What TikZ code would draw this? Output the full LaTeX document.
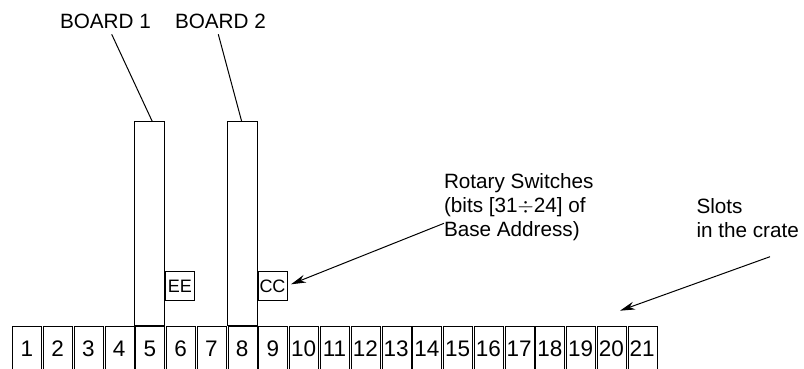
\documentclass[tikz,border=0pt]{standalone}
\usepackage{fontspec}
\setmainfont{Liberation Sans}
\usetikzlibrary{arrows.meta}
\begin{document}
\begin{tikzpicture}[x=1pt,y=-1pt,
  line width=1pt,
  every node/.style={font=\fontsize{20.7}{24}\selectfont, inner sep=0pt},
  slotbox/.style={draw, minimum width=29pt, minimum height=50pt, anchor=north west},
  slotnum/.style={font=\fontsize{22.5}{24}\selectfont},
  boardbox/.style={draw, minimum width=30pt, minimum height=204pt, anchor=north west},
  switchbox/.style={draw, minimum width=29pt, minimum height=29pt, anchor=north west, font=\fontsize{18}{20}\selectfont},
  lbl/.style={align=left, anchor=north west},
  leader/.style={line width=1pt},
  pointer/.style={line width=1pt, -{Stealth[length=15pt,width=8pt]}}]
\useasboundingbox (0,0) rectangle (804,369);
% slots
\foreach \i in {1,...,21} {
  \node[slotbox] (s\i) at ({12.3+(\i-1)*30.77},325.7) {};
  \node[slotnum] (n\i) at ({12.3+(\i-1)*30.77+14.5},348.5) {\i};
}
% boards
\node[boardbox] (b1) at (134.3,120.7) {};
\node[boardbox] (b2) at (227.4,120.7) {};
% rotary switches
\node[switchbox] (ee) at (164.8,271) {EE};
\node[switchbox] (cc) at (257.5,271) {CC};
% labels
\node[anchor=west] (l1) at (59.5,21.7) {BOARD 1};
\node[anchor=west] (l2) at (174.5,21.7) {BOARD 2};
\node[lbl] (rs) at (443.5,173) {Rotary Switches\\(bits [31\(\div\)24] of\\Base Address)};
\node[lbl] (sl) at (696,197.5) {Slots\\in the crate};
% connectors
\coordinate (l1e) at (111.7,34.3);
\coordinate (b1e) at (152.3,121.5);
\coordinate (l2e) at (218.3,34.3);
\coordinate (b2e) at (241.7,121.5);
\draw[leader] (l1e) -- (b1e);
\draw[leader] (l2e) -- (b2e);
\coordinate (rse) at (444,223.3);
\coordinate (cce) at (291,284.3);
\draw[pointer] (rse) -- (cce);
\coordinate (sle) at (770,256.7);
\coordinate (ste) at (620,310.7);
\draw[pointer] (sle) -- (ste);
\end{tikzpicture}
\end{document}
